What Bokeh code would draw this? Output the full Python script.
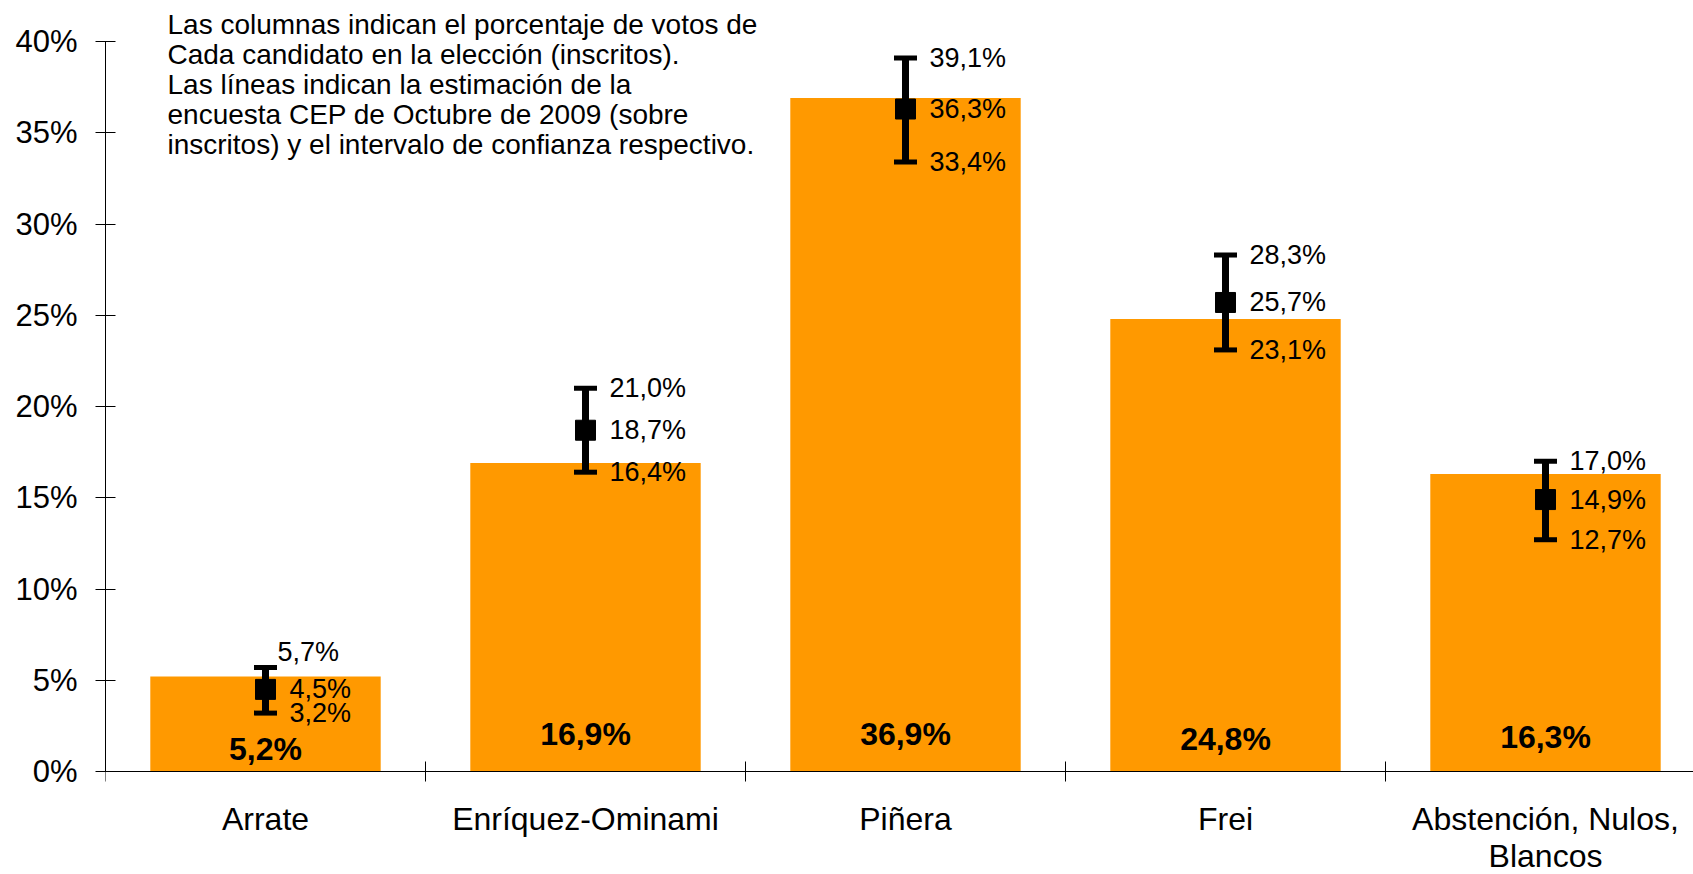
from bokeh.plotting import figure
from bokeh.models import Range1d, FixedTicker, PrintfTickFormatter
from bokeh.core.properties import value
from bokeh.embed import file_html
from bokeh.resources import INLINE

# ---------------- data ----------------
categories = ["Arrate", "Enríquez-Ominami", "Piñera", "Frei", "Abstención, Nulos, Blancos"]
election_pct = [5.2, 16.9, 36.9, 24.8, 16.3]          # columns (inscritos)
cep_estimate = [4.5, 18.7, 36.3, 25.7, 14.9]          # CEP Oct 2009 estimate
cep_upper = [5.7, 21.0, 39.1, 28.3, 17.0]             # confidence interval upper
cep_lower = [3.2, 16.4, 33.4, 23.1, 12.7]             # confidence interval lower
y_ticks = [0, 5, 10, 15, 20, 25, 30, 35, 40]
note_lines = [
    "Las columnas indican el porcentaje de votos de",
    "Cada candidato en la elección (inscritos).",
    "Las líneas indican la estimación de la",
    "encuesta CEP de Octubre de 2009 (sobre",
    "inscritos) y el intervalo de confianza respectivo.",
]

# ---------------- layout ----------------
FONT = "Liberation Sans"
ORANGE = "#FF9900"
W, H = 1693, 874
LEFT, TOP = 105, 10
AXIS_Y = 771                 # pixel row of the 0% baseline
CAT_PX = 320                 # pixels per category
pp = (AXIS_Y - 41) / 40.0    # pixels per percentage point

n = len(categories)
xc = [i + 0.5 for i in range(n)]
bounds = list(range(n))

def fmt(v):
    return ("%.1f%%" % v).replace(".", ",")

p = figure(width=W, height=H, output_backend="svg", toolbar_location=None,
           x_axis_type=None,
           x_range=Range1d(0, (W - LEFT) / CAT_PX),
           y_range=Range1d(-(H - AXIS_Y) / pp, (AXIS_Y - TOP) / pp),
           min_border_left=LEFT, min_border_right=0, min_border_top=TOP, min_border_bottom=0)
p.outline_line_color = None
p.ygrid.visible = False
p.background_fill_color = "white"
p.border_fill_color = "white"

# bars
p.vbar(x=xc, top=election_pct, width=0.72, fill_color=ORANGE, line_color=None)

# category axis (line, boundary ticks)
p.segment(x0=[0], y0=[0], x1=[(W - LEFT) / CAT_PX], y1=[0], line_color="black", line_width=1)
p.segment(x0=bounds, y0=[-10 / pp] * n, x1=bounds, y1=[10 / pp] * n,
          line_color="black", line_width=1)

# error bars
p.segment(x0=xc, y0=cep_lower, x1=xc, y1=cep_upper, line_color="black", line_width=7)
p.scatter(x=xc + xc, y=cep_upper + cep_lower, marker="dash", size=23, line_width=5,
          line_color="black")
p.scatter(x=xc, y=cep_estimate, marker="square", size=20, fill_color="black", line_color="black")

# error labels
lab_x, lab_y, lab_t, lab_dx, lab_dy = [], [], [], [], []
for i in range(n):
    for v, kind in ((cep_upper[i], "u"), (cep_estimate[i], "m"), (cep_lower[i], "l")):
        lab_x.append(xc[i])
        lab_y.append(v)
        lab_t.append(fmt(v))
        if i == 0 and kind == "u":
            lab_dx.append(12)
            lab_dy.append(-15)
        else:
            lab_dx.append(24)
            lab_dy.append(0)
p.text(x=lab_x, y=lab_y, text=lab_t, x_offset=lab_dx, y_offset=lab_dy,
       text_font=value(FONT), text_font_size="27px", text_align="left",
       text_baseline="middle", text_color="black")

# bold value labels inside bars (pixels above the baseline)
bar_label_px = [23, 38, 38, 33, 35]
p.text(x=xc, y=[d / pp for d in bar_label_px], text=[fmt(v) for v in election_pct],
       text_font=value(FONT), text_font_size="32px", text_font_style="bold",
       text_align="center", text_baseline="middle", text_color="black")

# note text
note_y = [(AXIS_Y - (24 + 30 * k)) / pp for k in range(len(note_lines))]
p.text(x=[(167 - LEFT) / CAT_PX] * len(note_lines), y=note_y, text=note_lines,
       text_font=value(FONT), text_font_size="28px", text_align="left",
       text_baseline="middle", text_color="black")

# category labels (wrapped)
cx, cy, ct = [], [], []
for i, c in enumerate(categories):
    lines = c.replace("Nulos, ", "Nulos,\n").split("\n")
    for k, line in enumerate(lines):
        cx.append(xc[i])
        cy.append(-(47 + 37 * k) / pp)
        ct.append(line)
p.text(x=cx, y=cy, text=ct, text_font=value(FONT), text_font_size="32px",
       text_align="center", text_baseline="middle", text_color="black")

# value axis
p.yaxis.ticker = FixedTicker(ticks=y_ticks)
p.yaxis.formatter = PrintfTickFormatter(format="%d%%")
p.yaxis.bounds = (0, 40)
p.yaxis.major_tick_in = 10
p.yaxis.major_tick_out = 10
p.yaxis.minor_tick_line_color = None
p.yaxis.major_label_standoff = 18
p.yaxis.major_label_text_font = FONT
p.yaxis.major_label_text_font_size = "31px"
p.yaxis.major_label_text_color = "black"
p.yaxis.axis_line_color = "black"
p.yaxis.major_tick_line_color = "black"

open("out.html", "w").write(file_html(p, INLINE))
